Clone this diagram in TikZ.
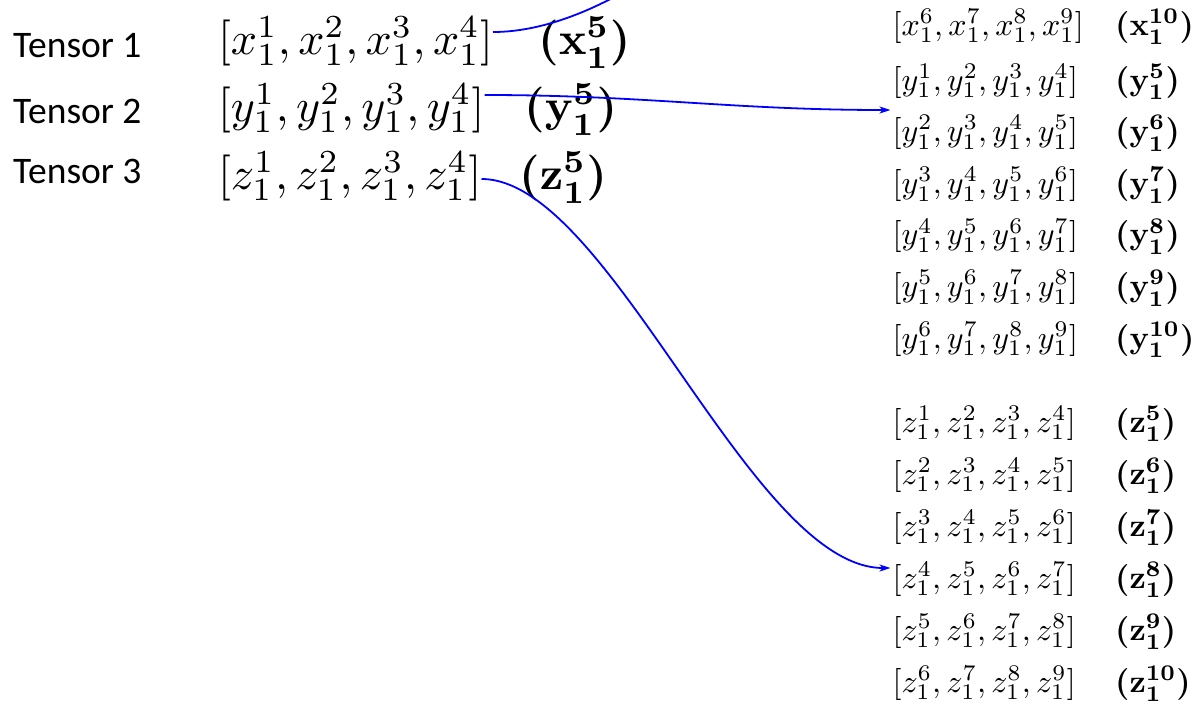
\documentclass[tikz,border=0pt]{standalone}
\usepackage{fontspec}
\newfontfamily\labelfont{Carlito}
\usetikzlibrary{arrows.meta}
\newcommand{\LgT}[1]{\scalebox{4.6}{#1}}
\newcommand{\SmT}[1]{\scalebox{3.2}{#1}}
\tikzset{
  lab/.style={anchor=base west, inner sep=0pt, font=\labelfont\fontsize{37.5}{40}\selectfont},
  big/.style={anchor=base west, inner sep=0pt},
  small/.style={anchor=base west, inner sep=0pt},
  link/.style={draw={rgb,255:red,0;green,0;blue,255}, line width=1.8pt},
  arr/.style={link, -{Stealth[length=11pt,width=7pt,inset=3pt]}}
}
\newcommand{\bv}[2]{{\boldmath$(\mathbf{#1}_{\mathbf{1}}^{\mathbf{#2}})$}}
\begin{document}
\begin{tikzpicture}[x=1pt,y=-1pt]
\useasboundingbox (0,0) rectangle (1192,704);
\clip (0,0) rectangle (1192,704);
% left labels
\node[lab] (t1) at (13,57) {Tensor 1};
\node[lab] (t2) at (13,123) {Tensor 2};
\node[lab] (t3) at (13,183) {Tensor 3};
% left tuples
\node[big] (xa) at (218,54) {\LgT{$[x_1^1, x_1^2, x_1^3, x_1^4]$}};
\node[big] (ya) at (218,121) {\LgT{$[y_1^1, y_1^2, y_1^3, y_1^4]$}};
\node[big] (za) at (218,189) {\LgT{$[z_1^1, z_1^2, z_1^3, z_1^4]$}};
\node[big] (xb) at (538,54) {\LgT{\bv{x}{5}}};
\node[big] (yb) at (524,121) {\LgT{\bv{y}{5}}};
\node[big] (zb) at (519,189) {\LgT{\bv{z}{5}}};
% right column
\node[small] (rx) at (892.5,35) {\SmT{$[x_1^6, x_1^7, x_1^8, x_1^9]$}};
\node[small] (rxb) at (1115,35) {\SmT{\bv{x}{10}}};
\node[small] (ry1) at (892.5,90) {\SmT{$[y_1^1, y_1^2, y_1^3, y_1^4]$}};
\node[small] (ry2) at (892.5,141.6) {\SmT{$[y_1^2, y_1^3, y_1^4, y_1^5]$}};
\node[small] (ry3) at (892.5,193.2) {\SmT{$[y_1^3, y_1^4, y_1^5, y_1^6]$}};
\node[small] (ry4) at (892.5,244.8) {\SmT{$[y_1^4, y_1^5, y_1^6, y_1^7]$}};
\node[small] (ry5) at (892.5,296.4) {\SmT{$[y_1^5, y_1^6, y_1^7, y_1^8]$}};
\node[small] (ry6) at (892.5,348) {\SmT{$[y_1^6, y_1^7, y_1^8, y_1^9]$}};
\node[small] (ryb1) at (1115,90) {\SmT{\bv{y}{5}}};
\node[small] (ryb2) at (1115,141.6) {\SmT{\bv{y}{6}}};
\node[small] (ryb3) at (1115,193.2) {\SmT{\bv{y}{7}}};
\node[small] (ryb4) at (1115,244.8) {\SmT{\bv{y}{8}}};
\node[small] (ryb5) at (1115,296.4) {\SmT{\bv{y}{9}}};
\node[small] (ryb6) at (1115,348) {\SmT{\bv{y}{10}}};
\node[small] (rz1) at (892.5,432) {\SmT{$[z_1^1, z_1^2, z_1^3, z_1^4]$}};
\node[small] (rz2) at (892.5,484) {\SmT{$[z_1^2, z_1^3, z_1^4, z_1^5]$}};
\node[small] (rz3) at (892.5,536) {\SmT{$[z_1^3, z_1^4, z_1^5, z_1^6]$}};
\node[small] (rz4) at (892.5,588) {\SmT{$[z_1^4, z_1^5, z_1^6, z_1^7]$}};
\node[small] (rz5) at (892.5,640) {\SmT{$[z_1^5, z_1^6, z_1^7, z_1^8]$}};
\node[small] (rz6) at (892.5,692) {\SmT{$[z_1^6, z_1^7, z_1^8, z_1^9]$}};
\node[small] (rzb1) at (1115,432) {\SmT{\bv{z}{5}}};
\node[small] (rzb2) at (1115,484) {\SmT{\bv{z}{6}}};
\node[small] (rzb3) at (1115,536) {\SmT{\bv{z}{7}}};
\node[small] (rzb4) at (1115,588) {\SmT{\bv{z}{8}}};
\node[small] (rzb5) at (1115,640) {\SmT{\bv{z}{9}}};
\node[small] (rzb6) at (1115,692) {\SmT{\bv{z}{10}}};
% connectors
\coordinate (xend) at (700,-60);
\draw[link] ([yshift=22pt]xa.base east) .. controls (560,32) and (635,-8) .. (xend);
\draw[arr] ([yshift=26pt]ya.base east) to[out=0,in=180] ([xshift=-2pt,yshift=31.6pt]ry2.base west);
\draw[arr] ([yshift=10pt]za.base east) .. controls (610,179) and (750,568) .. ([xshift=-2pt,yshift=20pt]rz4.base west);
\end{tikzpicture}
\end{document}
